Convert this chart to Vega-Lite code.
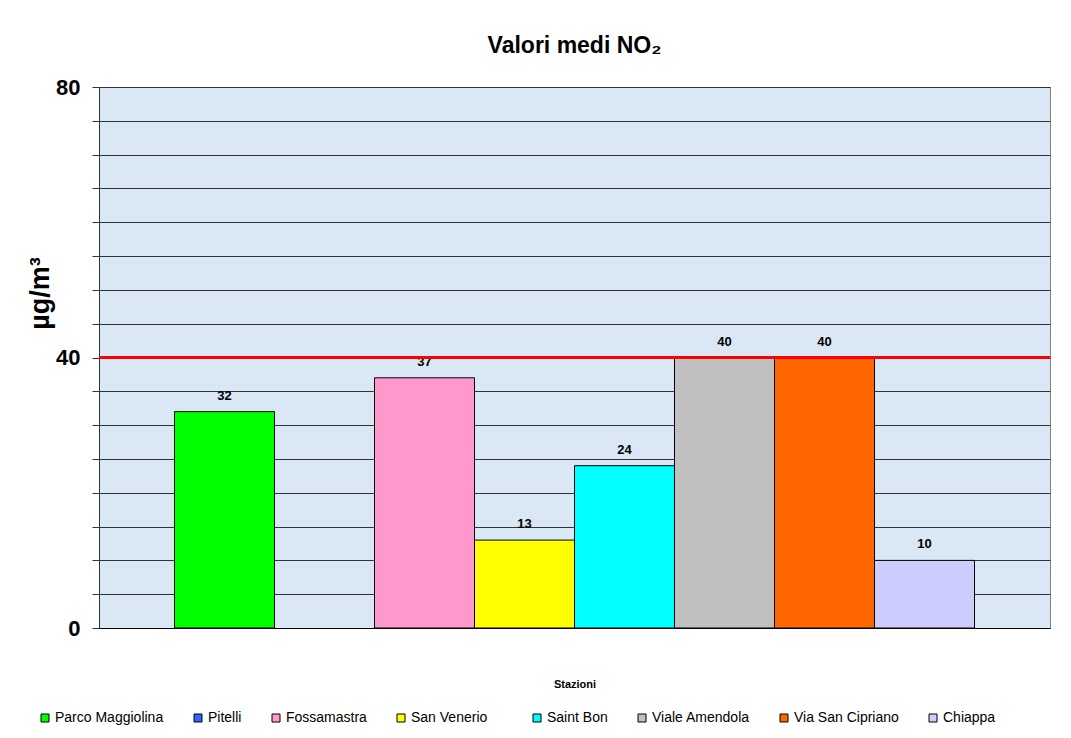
{
  "$schema": "https://vega.github.io/schema/vega-lite/v6.json",
  "width": 951,
  "height": 541,
  "autosize": {"type": "none"},
  "padding": {"left": 99, "top": 87, "right": 21, "bottom": 110},
  "background": "white",
  "config": {
    "font": "Liberation Sans",
    "view": {"fill": "#dae7f5", "stroke": "#808080", "strokeWidth": 1}
  },
  "title": {
    "text": "Valori medi NO₂",
    "font": "Liberation Sans",
    "fontSize": 23,
    "fontWeight": "bold",
    "color": "black",
    "anchor": "middle",
    "baseline": "alphabetic",
    "offset": 0
  },
  "data": {
    "values": [
      {"Stazione": "Parco Maggiolina", "Valore": 32},
      {"Stazione": "Pitelli", "Valore": null},
      {"Stazione": "Fossamastra", "Valore": 37},
      {"Stazione": "San Venerio", "Valore": 13},
      {"Stazione": "Saint Bon", "Valore": 24},
      {"Stazione": "Viale Amendola", "Valore": 40},
      {"Stazione": "Via San Cipriano", "Valore": 40},
      {"Stazione": "Chiappa", "Valore": 10}
    ]
  },
  "encoding": {
    "y": {
      "field": "Valore",
      "type": "quantitative",
      "scale": {"domain": [0, 80], "nice": false},
      "title": "µg/m³",
      "axis": {
        "values": [0, 5, 10, 15, 20, 25, 30, 35, 40, 45, 50, 55, 60, 65, 70, 75, 80],
        "labelExpr": "datum.value % 40 === 0 ? datum.label : ''",
        "grid": true,
        "gridColor": "#333333",
        "gridWidth": 1,
        "gridOpacity": 1,
        "domainColor": "#333333",
        "tickColor": "#333333",
        "tickSize": 7,
        "labelPadding": 12,
        "labelFont": "Liberation Sans",
        "labelFontSize": 22,
        "labelFontWeight": "bold",
        "labelColor": "black",
        "labelOverlap": false,
        "titleFont": "Liberation Sans",
        "titleFontSize": 27,
        "titleFontWeight": "bold",
        "titleColor": "black",
        "titlePadding": 1,
        "titleY": 206
      }
    }
  },
  "layer": [
    {
      "mark": {"type": "bar", "stroke": "black", "strokeWidth": 1},
      "encoding": {
        "x": {
          "field": "Stazione",
          "type": "nominal",
          "sort": null,
          "scale": {
            "domain": ["Parco Maggiolina", "Pitelli", "Fossamastra", "San Venerio", "Saint Bon", "Viale Amendola", "Via San Cipriano", "Chiappa"],
            "paddingInner": 0,
            "paddingOuter": 0.755
          },
          "title": "Stazioni",
          "axis": {
            "labels": false,
            "ticks": false,
            "domain": true,
            "domainColor": "black",
            "domainWidth": 1,
            "titleFont": "Liberation Sans",
            "titleFontSize": 11,
            "titleFontWeight": "bold",
            "titleColor": "black",
            "titlePadding": 50
          }
        },
        "color": {
          "field": "Stazione",
          "type": "nominal",
          "scale": {
            "domain": ["Parco Maggiolina", "Pitelli", "Fossamastra", "San Venerio", "Saint Bon", "Viale Amendola", "Via San Cipriano", "Chiappa"],
            "range": ["#00ff00", "#3366ff", "#ff99cc", "#ffff00", "#00ffff", "#c0c0c0", "#ff6600", "#ccccff"]
          },
          "legend": {
            "title": null,
            "orient": "none",
            "direction": "horizontal",
            "columns": 8,
            "legendX": -61,
            "legendY": 624,
            "padding": 0,
            "symbolType": "square",
            "symbolSize": 64,
            "symbolStrokeColor": "black",
            "symbolStrokeWidth": 1,
            "symbolOpacity": 1,
            "labelFont": "Liberation Sans",
            "labelFontSize": 14,
            "labelColor": "black",
            "labelOffset": 3,
            "labelExpr": "datum.label === 'San Venerio' ? 'San Venerio\u00a0\u00a0\u00a0\u00a0\u200b' : datum.label",
            "columnPadding": 27
          }
        }
      }
    },
    {
      "mark": {"type": "text", "fontWeight": "bold", "fontSize": 13, "font": "Liberation Sans", "color": "black", "baseline": "alphabetic", "dy": -12},
      "encoding": {
        "x": {"field": "Stazione", "type": "nominal", "sort": null},
        "text": {"field": "Valore", "type": "quantitative"}
      }
    },
    {
      "data": {"values": [{"Valore": 40}]},
      "mark": {"type": "rule", "color": "#ff0000", "strokeWidth": 3},
      "encoding": {}
    }
  ]
}
